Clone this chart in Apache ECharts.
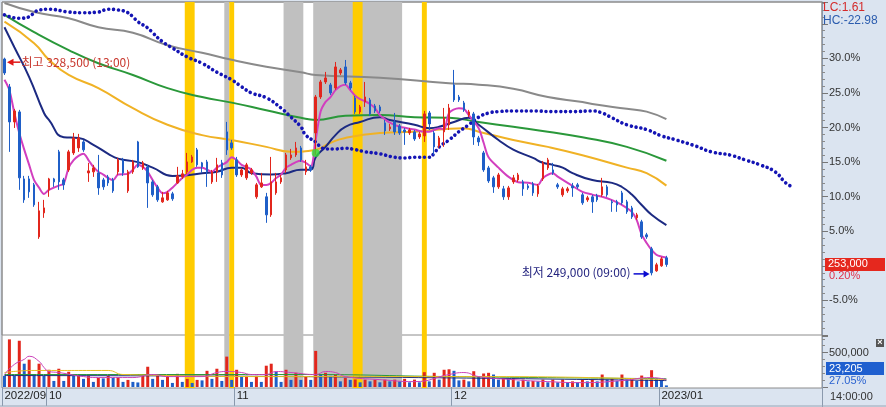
<!DOCTYPE html>
<html><head><meta charset="utf-8">
<script src="https://cdn.jsdelivr.net/npm/echarts@6/dist/echarts.min.js"></script>
<style>html,body{margin:0;padding:0;background:#dbe4f0}#c{width:886px;height:407px}</style>
</head><body><div id="c"></div>
<script>
// ---------- data (price values in % vs. base, volume in shares) ----------
const SLOTS = 166;
const tickLabels = [[0,'2022/09'],[9,'10'],[47,'11'],[91,'12'],[133,'2023/01']];
// [open, close, low, high] in %
const candles = [
[29.91,27.89,27.60,30.10],[25.87,20.81,16.48,26.30],[20.81,22.40,19.94,22.69],[22.26,12.72,10.99,22.55],[12.57,9.54,9.11,13.01],
[12.57,10.70,9.83,13.01],[11.71,8.82,8.53,11.99],[4.19,7.95,3.90,9.25],[7.66,8.38,6.94,9.54],[10.99,12.57,9.98,12.72],
[12.57,12.14,11.42,12.72],[16.48,12.14,10.99,16.77],[12.43,11.71,10.99,12.72],[13.87,16.48,13.59,16.77],[16.33,18.50,16.04,19.22],
[17.05,18.50,16.48,19.08],[17.92,16.77,16.48,18.21],[13.44,13.73,12.14,14.89],[13.59,14.16,12.86,14.60],[13.44,11.27,10.27,16.04],
[12.43,11.42,10.99,12.72],[12.86,11.99,11.56,13.15],[12.43,10.84,10.55,12.72],[13.59,15.32,13.15,15.61],[15.32,13.44,13.01,15.61],
[10.84,13.59,10.55,13.87],[13.59,15.03,13.30,15.32],[17.92,14.31,14.16,18.07],[14.16,14.89,13.87,15.17],[14.31,11.99,8.38,14.60],
[12.14,10.27,9.98,12.43],[11.42,9.54,9.25,11.71],[9.25,9.83,9.11,10.70],[9.54,10.55,9.40,10.84],[10.41,9.69,9.40,10.70],
[11.99,13.01,11.85,14.31],[12.86,13.30,12.57,13.87],[13.59,15.03,13.30,16.33],[15.03,15.75,14.89,16.04],[16.77,14.60,14.31,17.05],
[14.89,14.31,13.44,15.03],[15.03,13.59,11.42,15.32],[12.14,13.59,11.85,13.87],[13.59,14.60,12.14,15.61],[14.89,13.15,12.72,15.32],
[19.37,16.77,16.04,20.81],[17.78,17.05,16.77,18.21],[15.32,13.15,12.86,15.75],[13.15,13.87,12.86,14.16],[12.72,14.60,12.43,14.89],
[13.44,13.87,13.15,14.16],[9.98,11.71,9.69,11.99],[11.42,11.99,11.27,13.44],[9.98,7.37,6.22,10.55],[7.37,12.14,7.08,15.75],
[10.55,12.14,10.27,13.44],[12.14,12.72,11.85,13.15],[13.87,16.04,13.44,16.33],[15.61,16.04,15.32,16.91],[16.04,17.05,15.75,17.92],
[17.05,15.32,15.03,17.34],[13.59,14.31,13.15,15.32],[14.31,13.87,13.59,14.60],[19.22,24.42,16.04,24.71],[24.42,26.59,24.13,26.88],
[26.59,27.17,26.30,28.04],[26.16,25.00,24.71,26.45],[25.72,28.76,25.44,29.48],[27.89,28.33,27.60,28.61],[28.76,26.45,26.16,29.77],
[26.45,25.72,25.44,26.74],[24.28,22.26,21.97,24.57],[22.26,22.98,21.97,23.27],[23.70,24.42,22.98,26.59],[23.99,21.97,21.68,24.28],
[23.12,22.40,22.11,23.41],[22.98,22.40,22.11,23.27],[20.67,19.51,18.93,21.10],[19.80,20.09,19.51,20.52],[20.81,19.37,18.93,22.11],
[20.23,19.22,18.93,20.52],[19.65,19.37,17.49,19.94],[19.22,19.65,18.93,19.94],[19.37,18.35,18.07,19.65],[18.64,19.08,18.35,19.37],
[18.79,21.97,17.92,22.40],[22.11,20.52,19.65,22.40],[19.22,17.20,16.04,19.51],[17.34,18.50,17.05,18.79],[19.37,21.39,17.20,22.83],
[20.38,22.83,19.65,23.41],[26.16,23.99,23.70,28.33],[24.42,23.99,23.70,24.71],[23.56,22.55,22.26,23.85],[21.82,22.26,21.53,22.55],
[21.97,18.64,17.49,22.26],[18.50,17.92,17.34,18.79],[16.33,13.87,13.59,16.62],[14.16,12.28,11.99,14.45],[12.72,11.42,10.55,13.01],
[11.42,13.15,11.13,13.44],[11.13,9.98,9.54,11.56],[9.98,11.27,9.54,11.56],[12.14,12.72,11.85,13.15],[12.43,13.15,12.14,13.44],
[12.14,11.13,10.12,12.43],[11.56,11.27,10.99,11.85],[11.85,10.55,10.12,12.14],[10.41,11.56,9.98,11.85],[12.57,14.89,12.28,15.17],
[14.16,15.32,13.87,15.61],[13.87,13.44,13.15,14.89],[11.71,11.42,11.13,11.99],[10.27,11.13,9.98,11.42],[10.84,11.13,10.55,11.42],
[11.56,11.27,9.98,11.99],[11.71,11.42,11.13,11.99],[10.27,9.11,8.82,10.55],[9.54,9.83,9.25,10.12],[9.98,9.25,7.66,10.27],
[10.12,9.54,9.25,10.41],[10.27,11.42,9.98,12.72],[11.42,10.27,9.98,11.71],[9.25,9.11,7.81,9.54],[9.25,8.82,7.81,9.54],
[10.55,9.11,8.82,10.84],[9.25,7.81,7.52,9.54],[8.38,7.08,6.79,8.67],[6.94,7.37,6.65,7.66],[6.36,4.19,3.90,6.65],
[4.48,4.19,3.90,4.77],[2.46,-1.01,-1.38,2.75],[-0.72,0.15,-0.86,0.44],[0.00,1.01,-0.14,1.30],[1.16,0.20,-0.14,1.45]
];
const volumes = [
162000,691000,162000,671000,338000,397000,162000,338000,162000,250000,
88000,265000,88000,221000,162000,169000,118000,162000,74000,132000,
125000,162000,132000,140000,74000,103000,74000,66000,162000,294000,
118000,162000,103000,162000,59000,191000,74000,118000,59000,103000,
96000,235000,118000,265000,88000,441000,103000,250000,147000,162000,
74000,162000,74000,309000,338000,221000,74000,250000,103000,206000,
103000,147000,103000,524000,176000,206000,162000,181000,82000,132000,
103000,110000,68000,107000,82000,107000,68000,107000,82000,107000,
82000,118000,68000,107000,68000,215000,82000,206000,107000,250000,
257000,235000,96000,107000,82000,229000,156000,196000,206000,181000,
107000,132000,115000,125000,82000,107000,82000,88000,82000,107000,
68000,107000,68000,107000,68000,82000,68000,107000,82000,107000,
82000,181000,107000,118000,88000,181000,107000,118000,88000,166000,
107000,244000,118000,103000,23205
];
// moving-average / indicator readings as [barIndex, value]
const maShort = [[0,26.9],[1,25.4],[2,22.1],[3,19.2],[4,16.8],[5,14.6],[6,12.4],[7,11.3],[8,10.4],[9,11.0],[11,11.6],[12,11.9],[13,14.2],[14,15.3],[15,15.9],[16,16.2],[17,15.3],[18,14.3],[19,13.6],[20,13.2],[21,12.7],[22,12.4],[23,13.2],[25,13.3],[26,13.9],[27,14.6],[28,14.3],[29,13.6],[30,12.4],[31,11.3],[32,10.5],[33,10.7],[34,11.3],[35,12.0],[36,12.7],[37,13.2],[38,13.9],[39,14.2],[40,14.2],[41,13.9],[42,13.6],[43,14.2],[44,14.6],[45,15.0],[46,15.7],[47,15.3],[48,14.6],[49,14.3],[50,13.9],[51,12.9],[52,11.7],[53,11.7],[54,12.0],[55,12.7],[56,13.2],[57,14.2],[58,14.6],[59,15.0],[60,15.2],[61,14.9],[62,14.4],[63,18.2],[64,22.3],[65,23.7],[66,24.4],[67,25.4],[68,26.0],[69,26.2],[70,25.4],[71,24.6],[72,24.1],[73,23.8],[74,23.4],[75,22.8],[76,21.8],[77,21.2],[78,20.7],[80,20.1],[83,19.7],[85,19.4],[86,19.4],[88,19.9],[89,19.7],[90,22.1],[92,22.8],[93,22.7],[94,21.8],[96,19.9],[97,17.8],[98,15.7],[100,14.2],[102,12.9],[104,12.1],[106,12.0],[108,11.7],[109,12.7],[111,13.4],[112,12.9],[114,12.0],[117,10.7],[119,10.3],[121,10.0],[123,9.5],[125,8.8],[127,7.8],[128,6.6],[129,4.5],[130,3.3],[131,2.3],[132,1.6],[134,1.2]];
const maMid = [[0,34.5],[2,31.6],[5,27.3],[8,22.1],[9,21.1],[12,18.6],[15,18.5],[18,17.5],[21,16.2],[23,15.5],[27,15.0],[30,14.2],[34,13.0],[37,13.1],[40,13.4],[43,13.6],[46,14.2],[48,14.2],[50,13.4],[54,13.2],[57,13.4],[60,13.9],[62,13.9],[63,15.7],[65,17.2],[67,18.9],[69,20.1],[72,20.8],[76,21.5],[78,21.1],[83,20.4],[86,19.9],[88,20.1],[91,20.8],[94,21.4],[96,20.4],[100,18.2],[103,16.8],[107,15.6],[109,14.9],[111,14.6],[113,14.2],[115,13.4],[119,12.4],[123,12.0],[125,11.4],[127,10.3],[129,8.8],[131,7.4],[134,5.9]];
const maOrange = [[0,35.3],[6,32.2],[9,29.8],[13,27.6],[19,25.7],[26,22.8],[33,20.4],[40,18.9],[46,18.2],[53,17.2],[58,16.5],[63,16.8],[66,17.8],[69,18.5],[76,19.2],[83,19.4],[93,19.9],[96,19.4],[103,18.2],[110,17.2],[117,16.0],[126,14.2],[130,13.4],[134,11.6]];
const maGreen = [[0,36.3],[6,33.8],[13,31.2],[19,29.3],[26,27.6],[33,25.7],[40,24.4],[46,23.6],[53,22.5],[60,21.4],[63,21.1],[69,21.7],[76,21.8],[83,21.5],[90,21.4],[96,20.8],[103,20.1],[110,19.4],[117,18.6],[126,17.2],[134,15.2]];
const maGray = [[0,38.0],[6,36.7],[13,35.8],[19,34.5],[26,33.7],[33,31.9],[40,30.8],[46,29.8],[53,28.8],[60,28.0],[63,27.6],[76,27.2],[90,26.4],[96,26.2],[103,25.6],[110,24.4],[117,23.7],[119,23.4],[126,22.7],[130,22.3],[134,21.2]];
const leadLine = [[0,36.3],[3,35.8],[5,36.0],[6,36.6],[7,37.0],[9,37.1],[13,36.7],[16,36.6],[19,36.7],[21,37.1],[23,37.0],[25,36.6],[26,36.0],[27,35.3],[29,34.4],[30,33.7],[32,32.4],[34,31.5],[37,30.2],[40,29.3],[43,28.0],[46,26.9],[48,25.9],[50,25.0],[53,24.3],[56,22.8],[58,21.5],[60,20.1],[61,18.9],[63,17.9],[64,17.2],[65,16.9],[67,16.9],[69,17.0],[71,16.8],[73,16.5],[76,16.2],[79,15.7],[81,15.6],[83,15.7],[86,15.7],[87,16.3],[88,17.2],[90,18.2],[92,19.4],[94,20.4],[96,21.5],[98,22.1],[100,22.3],[103,22.4],[107,22.4],[111,22.3],[115,22.3],[119,22.4],[121,22.1],[123,21.4],[126,20.4],[130,19.7],[133,18.8],[136,18.2],[140,17.3],[143,16.5],[147,16.0],[150,15.3],[153,14.6],[156,13.6],[158,12.1],[159,11.6]];
const crossSignal = [[63,16.3]];
const volMaShort = [[0,181000],[2,328000],[4,401000],[5,446000],[7,372000],[8,284000],[9,225000],[11,210000],[16,151000],[19,137000],[26,137000],[30,181000],[33,151000],[40,151000],[43,210000],[45,225000],[48,210000],[50,181000],[53,181000],[55,225000],[58,210000],[63,181000],[65,225000],[67,210000],[69,151000],[76,107000],[83,78000],[90,181000],[93,210000],[96,151000],[103,107000],[110,78000],[117,63000],[125,93000],[131,137000],[134,107000]];
const volMaYellow = [[0,210000],[6,240000],[21,240000],[24,181000],[60,151000],[100,151000],[134,107000]];
const volMaGreen = [[0,181000],[60,181000],[90,151000],[134,120000]];
const volMaNavy = [[0,166000],[60,151000],[134,93000]];
const grayBands = [[45,45],[57,60],[63,80]];
const goldBands = [[37,38],[46,46],[71,72],[85,85]];

// ---------- build ----------
const F = '"Liberation Sans", Arial, sans-serif';
const FK = '"Noto Sans CJK KR", sans-serif';
const UP = '#e2261c', DOWN = '#1f5fc8';
const categories = Array.from({length: SLOTS}, (_, i) => String(i));
const labelMap = {}; tickLabels.forEach(([i, t]) => labelMap[i] = t);
const bandSeries = (bands, color) => ({
  type: 'custom', xAxisIndex: 0, yAxisIndex: 0, data: bands, silent: true, z: 1,
  renderItem: (params, api) => {
    const a = api.coord([api.value(0), 0]);
    const b = api.coord([api.value(1), 1]);
    const w = api.size([1, 0])[0];
    return {type: 'rect', shape: {x: a[0] - w / 2, y: b[1], width: b[0] - a[0] + w, height: a[1] - b[1]},
      style: {fill: color}};
  }
});
const lineS = (data, color, width, extra) => Object.assign({
  type: 'line', xAxisIndex: 1, yAxisIndex: 1, data, smooth: true, symbol: 'none',
  lineStyle: {color, width}, silent: true, z: 3
}, extra || {});
const volLine = (data, color) => ({type: 'line', xAxisIndex: 2, yAxisIndex: 2, data, smooth: true, symbol: 'none',
  lineStyle: {color, width: 1}, silent: true, z: 4});

const option = {
  animation: false,
  backgroundColor: '#dbe4f0',
  grid: [
    {left: 2, right: 64, top: 2, height: 386, show: true, backgroundColor: '#ffffff', borderColor: '#8c8c8c', borderWidth: 1, outerBoundsMode: 'none'},
    {left: 2, right: 64, top: 2, height: 333, show: true, backgroundColor: 'transparent', borderColor: '#8c8c8c', borderWidth: 1, outerBoundsMode: 'none'},
    {left: 2, right: 64, top: 336, height: 51, outerBoundsMode: 'none'}
  ],
  xAxis: [
    {type: 'category', gridIndex: 0, data: categories, show: false},
    {type: 'category', gridIndex: 1, data: categories, show: false},
    {type: 'category', gridIndex: 2, data: categories,
      axisLine: {show: false},
      axisTick: {show: true, interval: i => i in labelMap, length: 19, lineStyle: {color: '#8a99ad'}},
      axisLabel: {interval: i => i in labelMap, formatter: (v, i) => labelMap[i] || '', align: 'left',
        margin: 3, fontSize: 11.5, color: '#222', fontFamily: F},
      splitLine: {show: false}}
  ],
  yAxis: [
    {type: 'value', gridIndex: 0, min: 0, max: 1, show: false},
    {type: 'value', gridIndex: 1, position: 'right', min: -10, max: 38.15, interval: 5,
      splitLine: {show: false},
      axisLine: {show: true, lineStyle: {color: '#8a99ad'}},
      axisTick: {show: true, length: 6, lineStyle: {color: '#777'}},
      minorTick: {show: true, splitNumber: 5, length: 3, lineStyle: {color: '#8a8a8a'}},
      axisLabel: {margin: 7, fontSize: 11, color: '#333', fontFamily: F,
        formatter: v => { const r = Math.round(v); if (Math.abs(v - r) > 1e-6 || r % 5 !== 0 || r === 0 || r <= -10 || r >= 35) return ''; return r.toFixed(1) + '%'; }}},
    {type: 'value', gridIndex: 2, position: 'right', min: 0, max: 740000, interval: 500000,
      splitLine: {show: false},
      axisLine: {show: true, lineStyle: {color: '#8a99ad'}},
      axisTick: {show: true, length: 6, lineStyle: {color: '#777'}},
      minorTick: {show: true, splitNumber: 5, length: 3, lineStyle: {color: '#8a8a8a'}},
      axisLabel: {margin: 7, fontSize: 11, color: '#333', fontFamily: F,
        formatter: v => v === 500000 ? '500,000' : ''}}
  ],
  series: [
    bandSeries(grayBands, '#c0c0c0'),
    Object.assign(bandSeries(goldBands, '#ffcc00'), {z: 1.5}),
    lineS(maGray, '#8a8a8a', 2),
    lineS(maGreen, '#2a983a', 2),
    lineS(maOrange, '#f0b225', 2),
    lineS(maMid, '#1c2a82', 2),
    lineS(maShort, '#d23fbf', 2, {smooth: 0.3}),
    lineS(leadLine, '#1414b4', 3.4, {lineStyle: {color: '#1414b4', width: 3.6, type: [0.01, 4.9], cap: 'round'}}),
    {type: 'candlestick', xAxisIndex: 1, yAxisIndex: 1, data: candles, barWidth: 2,
      itemStyle: {color: UP, color0: DOWN, borderColor: UP, borderColor0: DOWN, borderWidth: 1}, silent: true, z: 5},
    {type: 'scatter', xAxisIndex: 1, yAxisIndex: 1, data: crossSignal, symbolSize: 8,
      itemStyle: {color: '#33e033'}, silent: true, z: 6},
    {type: 'bar', xAxisIndex: 2, yAxisIndex: 2, barWidth: 3, silent: true, z: 3,
      data: volumes.map((v, i) => ({value: v, itemStyle: {color: i > 0 && v > volumes[i - 1] ? UP : DOWN}}))},
    volLine(volMaNavy, '#1c2a82'),
    volLine(volMaGreen, '#2a983a'),
    volLine(volMaYellow, '#e8c020'),
    volLine(volMaShort, '#cc44bb')
  ]
};

const chart = echarts.init(document.getElementById('c'), null, {renderer: 'canvas'});
chart.setOption(option);

// annotations anchored via the library's scales
const P = (i, v) => chart.convertToPixel({gridIndex: 1}, [i, v]);
let hi = 0, lo = 0;
candles.forEach((c, i) => { if (c[3] > candles[hi][3]) hi = i; if (c[2] < candles[lo][2]) lo = i; });
const last = candles.length - 1;
const ph = P(hi, candles[hi][3]);
const pl = P(lo, candles[lo][2]);
const pc = P(last, candles[last][1]);
const hx = ph[0], hy = ph[1] + 4.5;
const lx = pl[0] - 2, ly = pl[1] - 1.5;
const txt = (x, y, text, fill, font, align) => ({type: 'text', x, y, z: 100,
  style: {text, fill, font, textAlign: align || 'left', textVerticalAlign: 'middle'}});
chart.setOption({graphic: [
  {type: 'polygon', z: 100, shape: {points: [[hx + 2.5, hy], [hx + 9, hy - 3.5], [hx + 9, hy + 3.5]]}, style: {fill: '#e01818'}},
  {type: 'line', z: 100, shape: {x1: hx + 8, y1: hy, x2: hx + 16, y2: hy}, style: {stroke: '#e01818', lineWidth: 1.5}},
  txt(hx + 17, hy, '최고 328,500 (13:00)', '#c8372d', '12px ' + FK),
  {type: 'polygon', z: 100, shape: {points: [[lx, ly], [lx - 6, ly - 3.5], [lx - 6, ly + 3.5]]}, style: {fill: '#0a0ad0'}},
  {type: 'line', z: 100, shape: {x1: lx - 16, y1: ly, x2: lx - 5, y2: ly}, style: {stroke: '#0a0ad0', lineWidth: 1.5}},
  txt(lx - 19, ly - 1, '최저 249,000 (09:00)', '#262680', '12px ' + FK, 'right'),
  // right column
  txt(823, 8, 'LC:1.61', '#d42a2a', '12px ' + F),
  txt(823, 21, 'HC:-22.98', '#2b5cae', '12px ' + F),
  {type: 'rect', z: 100, shape: {x: 825, y: pc[1] - 6.5, width: 60, height: 13}, style: {fill: '#e5281e'}},
  txt(828, pc[1], '253,000', '#ffffff', '11px ' + F),
  txt(829, pc[1] + 12, '0.20%', '#e0304a', '11px ' + F),
  {type: 'rect', z: 100, shape: {x: 826, y: 362, width: 58, height: 13}, style: {fill: '#1f5fcf'}},
  txt(829, 368.5, '23,205', '#ffffff', '11px ' + F),
  txt(829, 381, '27.05%', '#2a62d0', '11px ' + F),
  {type: 'rect', z: 100, shape: {x: 876, y: 339, width: 8, height: 8}, style: {fill: '#555555'}},
  txt(880, 343, '×', '#ffffff', 'bold 9px ' + F, 'center'),
  txt(830, 397, '14:00:00', '#333333', '11px ' + F),
  {type: 'line', z: 100, shape: {x1: 822.5, y1: 388, x2: 822.5, y2: 407}, style: {stroke: '#8a99ad', lineWidth: 1}},
  {type: 'line', z: 100, shape: {x1: 0, y1: 406, x2: 886, y2: 406}, style: {stroke: '#9aa6b6', lineWidth: 1}}
]});
</script>
</body></html>
